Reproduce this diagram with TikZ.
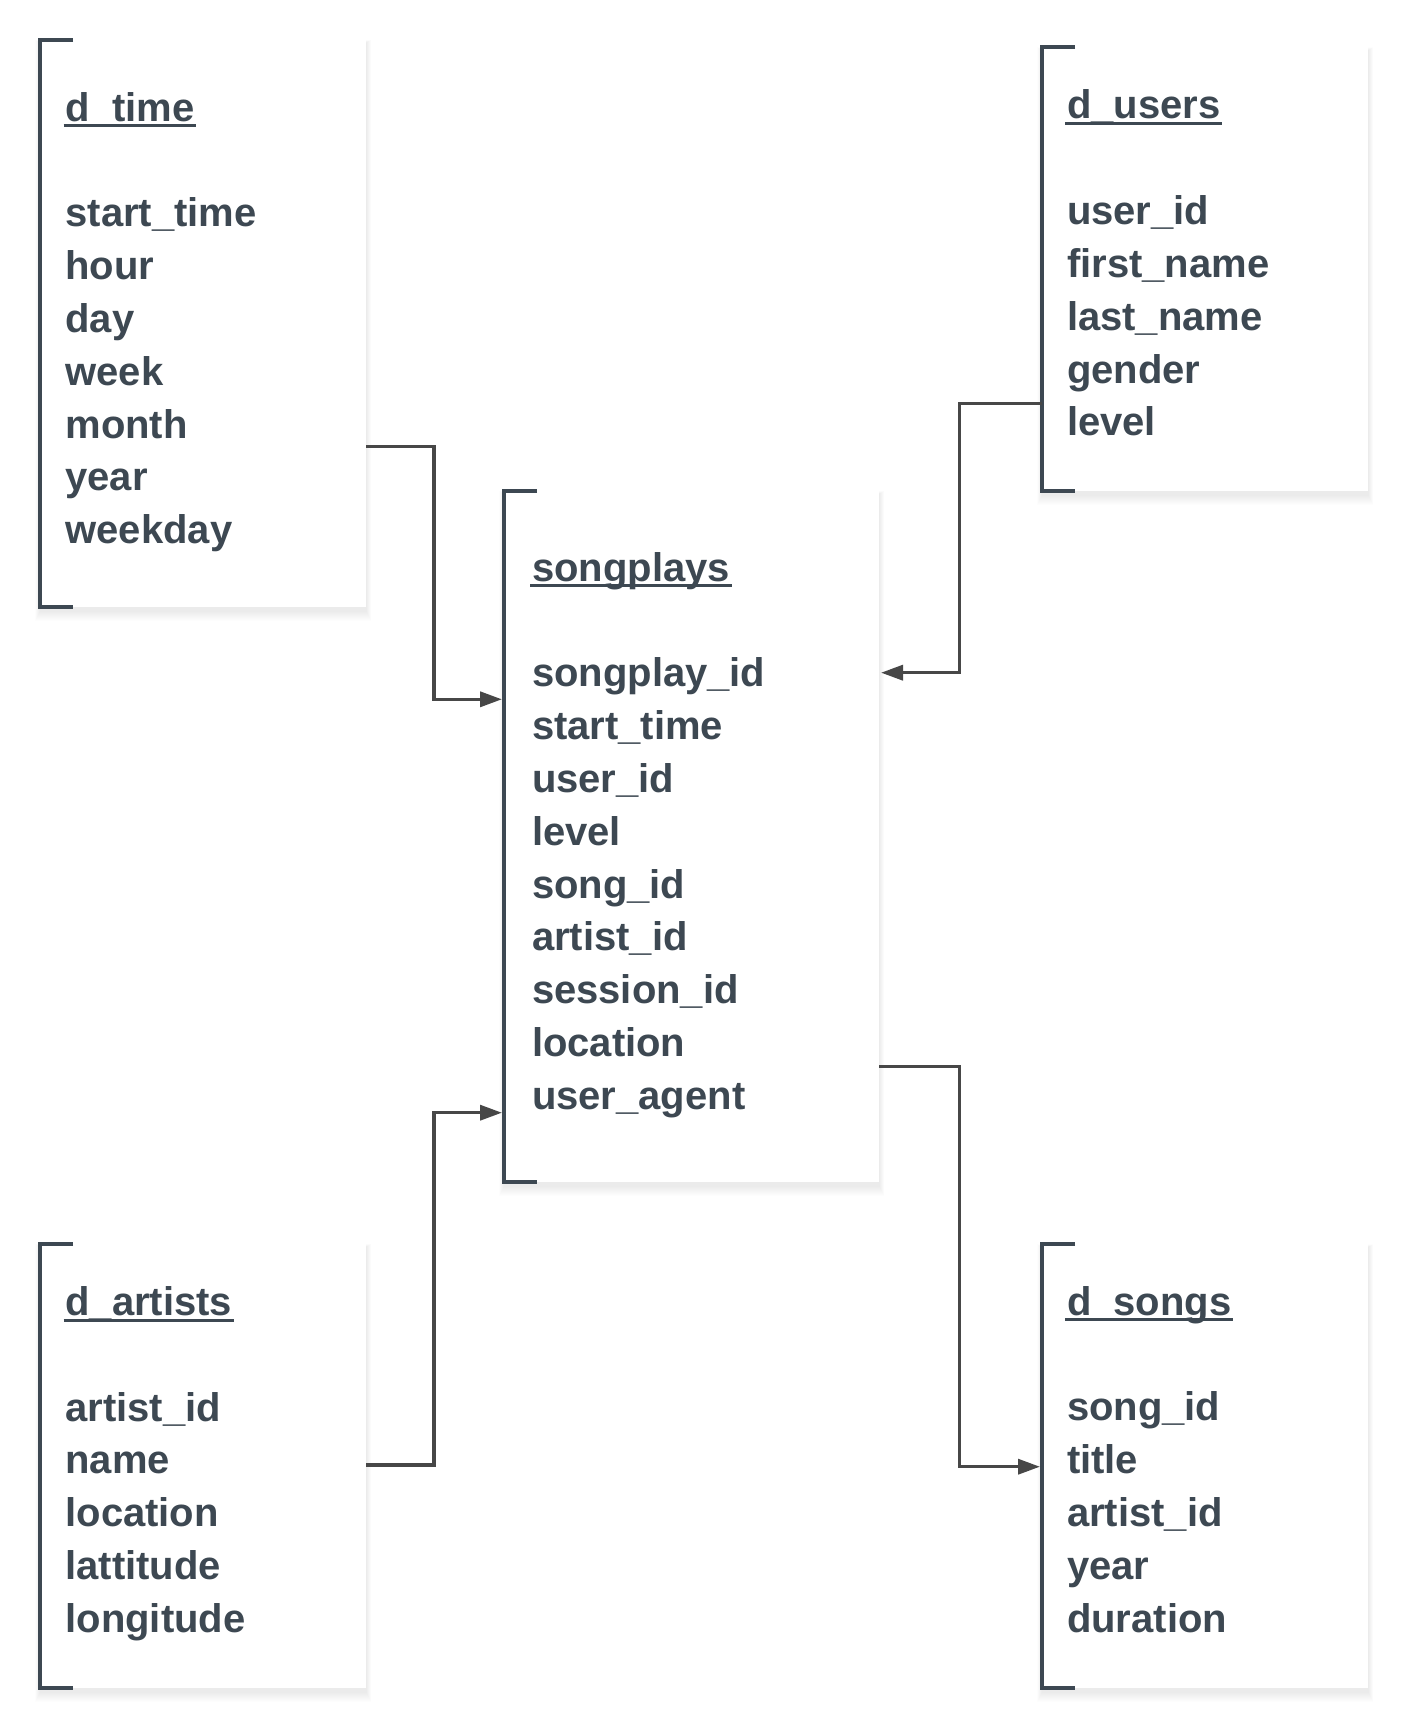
\documentclass[tikz,border=0pt]{standalone}
\usepackage{fontspec}
\setmainfont{Liberation Sans}
\usetikzlibrary{arrows.meta}
\definecolor{txt}{HTML}{3D4852}
\definecolor{conncol}{HTML}{474747}
\tikzset{
  tbl/.style={rectangle, fill=white, inner sep=0pt, outer sep=0pt, anchor=north west},
  fieldtxt/.style={inner sep=0pt, outer sep=0pt, anchor=base west, text=txt, font=\fontsize{40}{48}\selectfont\bfseries},
  brk/.style={draw=txt, line width=4pt, line join=miter, line cap=butt},
  uline/.style={draw=txt, line width=3pt},
  connector/.style={draw=conncol, line width=3.5pt, -{Triangle[length=22pt,width=15pt]}, shorten >=2pt, line join=miter},
  softshadow/.style={fill=black, opacity=0.009}
}
% #1 name, #2 left, #3 top, #4 width, #5 height, #6 text x, #7 title baseline, #8 title, #9 fields
\newcommand\dbtable[9]{%
  \foreach \i in {1,...,10}
    \fill[softshadow] ({#2-\i*0.5},{#3+3-\i*0.3}) rectangle ({#2+#4+\i*0.5},{#3+#5+4+\i*1.0});
  \node[tbl, minimum width=#4pt, minimum height=#5pt] (#1) at (#2,#3) {};
  \draw[brk] ([xshift=33pt]#1.north west) -- (#1.north west) -- (#1.south west) -- ([xshift=33pt]#1.south west);
  \node[fieldtxt] (#1-title) at (#6,#7) {#8};
  \draw[uline] ([xshift=-2pt,yshift=-4.5pt]#1-title.base west) -- ([xshift=2pt,yshift=-4.5pt]#1-title.base east);
  \foreach \f [count=\n] in {#9}
    \node[fieldtxt] (#1-f\n) at (#6,{#7+52.8*(\n+1)}) {\f};
}
\begin{document}
\begin{tikzpicture}[x=1pt,y=-1pt]
\useasboundingbox (0,0) rectangle (1408,1720);
\fill[white] (0,0) rectangle (1408,1720);

\dbtable{time}{40}{40}{326}{567}{65.5}{121.3}{d\_time}{start\_time,hour,day,week,month,year,weekday}
\dbtable{users}{1042}{47.5}{326}{443.2}{1067}{119}{d\_users}{user\_id,first\_name,last\_name,gender,level}
\dbtable{songplays}{504}{491}{375}{690.7}{532}{581.2}{songplays}{songplay\_id,start\_time,user\_id,level,song\_id,artist\_id,session\_id,location,user\_agent}
\dbtable{artists}{40}{1244}{326}{444}{65.5}{1315.5}{d\_artists}{artist\_id,name,location,lattitude,longitude}
\dbtable{songs}{1042}{1244.3}{326}{443.4}{1067}{1315.2}{d\_songs}{song\_id,title,artist\_id,year,duration}

\draw[connector] ([yshift=-406.7pt]time.north east) -- ++(68,0) |- ([yshift=-208.3pt]songplays.north west);
\draw[connector] ([yshift=-355.8pt]users.north west) -- ++(-82.5,0) |- ([yshift=-181.7pt]songplays.north east);
\draw[connector] ([yshift=-221pt]artists.north east) -- ++(68,0) |- ([yshift=-621.7pt]songplays.north west);
\draw[connector] ([yshift=-575.7pt]songplays.north east) -- ++(80.5,0) |- ([yshift=-222.4pt]songs.north west);
\end{tikzpicture}
\end{document}
